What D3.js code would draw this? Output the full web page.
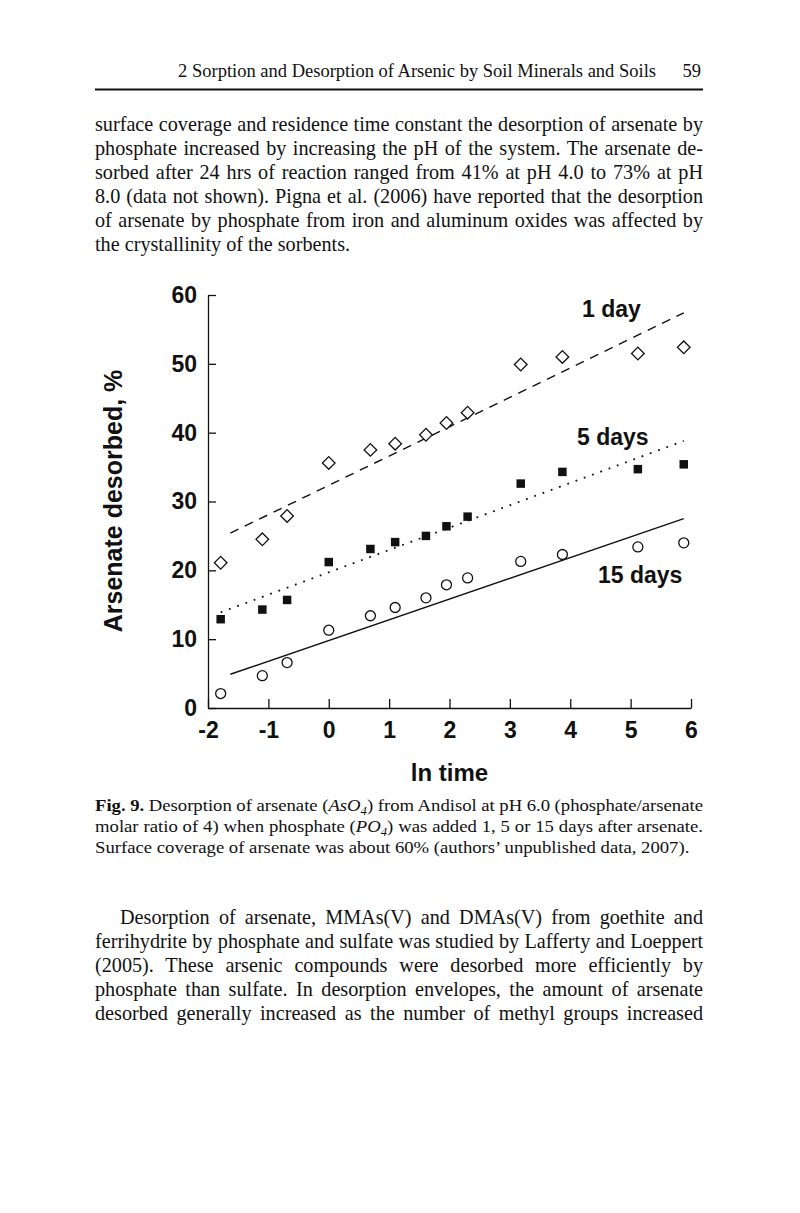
<!DOCTYPE html>
<html>
<head>
<meta charset="utf-8">
<script src="https://cdn.jsdelivr.net/npm/d3@7"></script>
<style>
  html, body { margin: 0; padding: 0; background: #fff; }
  svg { display: block; }
</style>
</head>
<body>
<script>
// ---------- DATA ----------
const lnTime = [-1.79, -1.10, -0.69, 0.00, 0.69, 1.10, 1.61, 1.95, 2.30, 3.18, 3.87, 5.12, 5.88];
const day1   = [21.1, 24.5, 27.9, 35.6, 37.5, 38.4, 39.7, 41.4, 42.9, 49.9, 51.0, 51.5, 52.4];
const day5   = [12.9, 14.3, 15.7, 21.2, 23.1, 24.1, 25.0, 26.4, 27.8, 32.6, 34.3, 34.7, 35.4];
const day15  = [2.1, 4.7, 6.6, 11.3, 13.4, 14.6, 16.0, 17.9, 18.9, 21.3, 22.3, 23.4, 24.0];
// fitted lines: [x0, y0, x1, y1] in data units
const fit1  = [-1.63, 25.4, 5.88, 57.4];
const fit5  = [-1.79, 13.9, 5.88, 38.8];
const fit15 = [-1.63, 4.9, 5.88, 27.5];
const seriesLabels = ["1 day", "5 days", "15 days"];
const xTicks = [-2, -1, 0, 1, 2, 3, 4, 5, 6];
const yTicks = [0, 10, 20, 30, 40, 50, 60];
const xTitle = "ln time";
const yTitle = "Arsenate desorbed, %";

const headerText = "2 Sorption and Desorption of Arsenic by Soil Minerals and Soils";
const pageNumber = "59";
const para1 = [
  "surface coverage and residence time constant the desorption of arsenate by",
  "phosphate increased by increasing the pH of the system. The arsenate de-",
  "sorbed after 24 hrs of reaction ranged from 41% at pH 4.0 to 73% at pH",
  "8.0 (data not shown). Pigna et al. (2006) have reported that the desorption",
  "of arsenate by phosphate from iron and aluminum oxides was affected by",
  "the crystallinity of the sorbents."
];
const caption = [
  "<b>Fig. 9.</b> Desorption of arsenate (<i>AsO</i><s>4</s>) from Andisol at pH 6.0 (phosphate/arsenate",
  "molar ratio of 4) when phosphate (<i>PO</i><s>4</s>) was added 1, 5 or 15 days after arsenate.",
  "Surface coverage of arsenate was about 60% (authors\u2019 unpublished data, 2007)."
];
const para2 = [
  "Desorption of arsenate, MMAs(V) and DMAs(V) from goethite and",
  "ferrihydrite by phosphate and sulfate was studied by Lafferty and Loeppert",
  "(2005). These arsenic compounds were desorbed more efficiently by",
  "phosphate than sulfate. In desorption envelopes, the amount of arsenate",
  "desorbed generally increased as the number of methyl groups increased"
];

// ---------- PAGE ----------
const W = 800, H = 1213;
const svg = d3.select("body").append("svg").attr("width", W).attr("height", H);
svg.append("rect").attr("width", W).attr("height", H).attr("fill", "#fff");

const serif = "'Liberation Serif', 'Times New Roman', Times, serif";
const sans = "'Liberation Sans', Arial, Helvetica, sans-serif";
const ink = "#111";
const LEFT = 95, RIGHT = 703;

// header
svg.append("text").attr("x", 656).attr("y", 77).attr("text-anchor", "end")
  .attr("font-family", serif).attr("font-size", 18.5).attr("fill", ink).text(headerText);
svg.append("text").attr("x", 701).attr("y", 77).attr("text-anchor", "end")
  .attr("font-family", serif).attr("font-size", 18.5).attr("fill", ink).text(pageNumber);
svg.append("line").attr("x1", LEFT).attr("x2", RIGHT).attr("y1", 89.5).attr("y2", 89.5)
  .attr("stroke", ink).attr("stroke-width", 2);

// rich-line writer with justification
function writeLine(str, x0, baseline, size, justify, sx) {
  sx = sx || 1;
  const t = svg.append("text").attr("x", 0).attr("y", 0)
    .attr("transform", `translate(${x0},${baseline}) scale(${sx},1)`)
    .attr("font-family", serif).attr("font-size", size).attr("fill", ink)
    .attr("xml:space", "preserve");
  const parts = str.split(/(<\/?[bis]>)/).filter(p => p !== "");
  let bold = false, ital = false, sub = false, shifted = false;
  parts.forEach(p => {
    if (p === "<b>") { bold = true; return; }
    if (p === "</b>") { bold = false; return; }
    if (p === "<i>") { ital = true; return; }
    if (p === "</i>") { ital = false; return; }
    if (p === "<s>") { sub = true; return; }
    if (p === "</s>") { sub = false; return; }
    const ts = t.append("tspan").text(p);
    if (bold) ts.attr("font-weight", "bold");
    if (ital || sub) ts.attr("font-style", "italic");
    if (sub) { ts.attr("font-size", size * 0.68).attr("dy", size * 0.22); shifted = true; }
    else if (shifted) { ts.attr("dy", -size * 0.22); shifted = false; }
  });
  if (justify) {
    const plain = str.replace(/<\/?[bis]>/g, "");
    const spaces = (plain.match(/ /g) || []).length;
    const w = t.node().getComputedTextLength();
    if (spaces > 0) t.attr("word-spacing", ((RIGHT - x0) / sx - w) / spaces);
  }
}

para1.forEach((l, i) => writeLine(l, LEFT, 131 + i * 24, 20.2, i < para1.length - 1));
caption.forEach((l, i) => writeLine(l, LEFT, 811 + i * 21, 17, i < caption.length - 1, 1.1));
para2.forEach((l, i) => writeLine(l, i === 0 ? 120 : LEFT, 924 + i * 24, 20.2, true));

// ---------- CHART ----------
const x = d3.scaleLinear().domain([-2, 6]).range([208, 691]);
const y = d3.scaleLinear().domain([0, 60]).range([708, 295]);
const g = svg.append("g");

const yAxis = g.append("g").attr("transform", `translate(${x(-2)},0)`)
  .call(d3.axisLeft(y).tickValues(yTicks).tickSize(-8).tickSizeOuter(0).tickPadding(11)
    .tickFormat(d => String(d)));
const xAxis = g.append("g").attr("transform", `translate(0,${y(0)})`)
  .call(d3.axisBottom(x).tickValues(xTicks).tickSize(-9).tickSizeOuter(0).tickPadding(14)
    .tickFormat(d => String(d)));
[yAxis, xAxis].forEach(a => {
  a.selectAll("path.domain").attr("stroke", ink).attr("stroke-width", 1.3);
  a.selectAll(".tick line").attr("stroke", ink).attr("stroke-width", 1.3);
  a.selectAll(".tick text").attr("font-family", sans).attr("font-weight", "bold")
    .attr("font-size", 23).attr("fill", ink);
});

// axis titles
g.append("text").attr("x", (x(-2) + x(6)) / 2).attr("y", 781).attr("text-anchor", "middle")
  .attr("font-family", sans).attr("font-weight", "bold").attr("font-size", 24).attr("fill", ink)
  .text(xTitle);
g.append("text").attr("transform", "translate(122,501) rotate(-90)").attr("text-anchor", "middle")
  .attr("font-family", sans).attr("font-weight", "bold").attr("font-size", 25).attr("fill", ink)
  .text(yTitle);

// fitted lines
const fits = [
  { f: fit1, dash: "9,7", w: 1.4 },
  { f: fit5, dash: "1.8,7", w: 1.8 },
  { f: fit15, dash: null, w: 1.4 }
];
fits.forEach(o => {
  const ln = g.append("line")
    .attr("x1", x(o.f[0])).attr("y1", y(o.f[1]))
    .attr("x2", x(o.f[2])).attr("y2", y(o.f[3]))
    .attr("stroke", ink).attr("stroke-width", o.w);
  if (o.dash) ln.attr("stroke-dasharray", o.dash);
});

// markers
const pts = (arr) => lnTime.map((t, i) => [t, arr[i]]);
g.append("g").selectAll("path").data(pts(day15)).join("path")
  .attr("d", d3.symbol().type(d3.symbolCircle).size(Math.PI * 5 * 5))
  .attr("transform", d => `translate(${x(d[0])},${y(d[1])})`)
  .attr("fill", "#fff").attr("stroke", ink).attr("stroke-width", 1.3);
g.append("g").selectAll("path").data(pts(day5)).join("path")
  .attr("d", d3.symbol().type(d3.symbolSquare).size(72))
  .attr("transform", d => `translate(${x(d[0])},${y(d[1])})`)
  .attr("fill", ink).attr("stroke", "none");
g.append("g").selectAll("path").data(pts(day1)).join("path")
  .attr("d", d3.symbol().type(d3.symbolSquare).size(80))
  .attr("transform", d => `translate(${x(d[0])},${y(d[1])}) rotate(45)`)
  .attr("fill", "#fff").attr("stroke", ink).attr("stroke-width", 1.3);

// series labels
const labelPos = [[582, 317], [577, 445], [598, 583]];
seriesLabels.forEach((s, i) => {
  g.append("text").attr("x", labelPos[i][0]).attr("y", labelPos[i][1])
    .attr("font-family", sans).attr("font-weight", "bold").attr("font-size", 23).attr("fill", ink)
    .text(s);
});
</script>
</body>
</html>
